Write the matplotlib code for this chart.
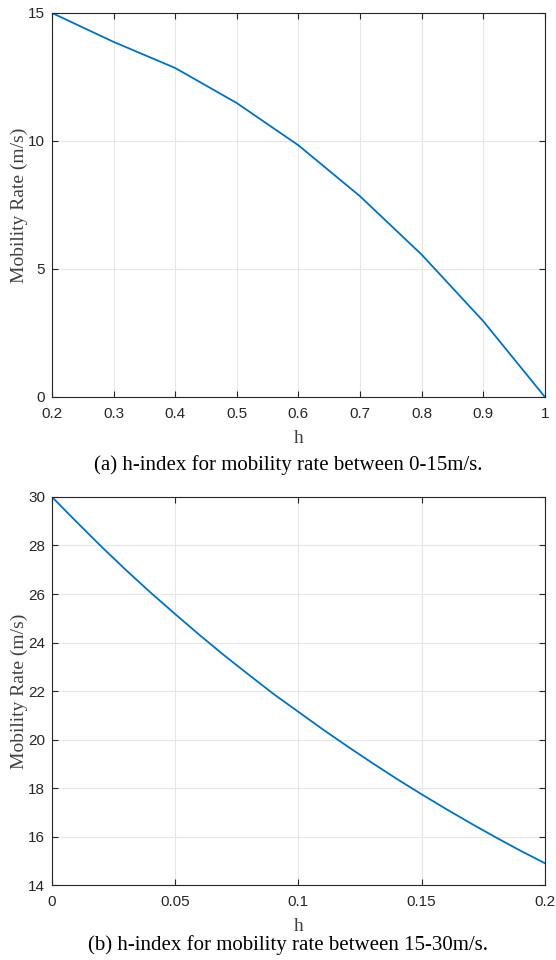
import matplotlib
matplotlib.use("Agg")
import matplotlib.pyplot as plt

# (a) h-index vs mobility rate, 0-15 m/s
h_a = [0.2, 0.3, 0.4, 0.5, 0.6, 0.7, 0.8, 0.9, 1.0]
rate_a = [15.0, 13.87, 12.85, 11.48, 9.83, 7.84, 5.56, 2.96, 0.0]

# (b) h-index vs mobility rate, 15-30 m/s
h_b = [0.00, 0.01, 0.02, 0.03, 0.04, 0.05, 0.06, 0.07, 0.08, 0.09, 0.10,
       0.11, 0.12, 0.13, 0.14, 0.15, 0.16, 0.17, 0.18, 0.19, 0.20]
rate_b = [30.0, 28.97, 27.96, 26.99, 26.06, 25.17, 24.30, 23.46, 22.66, 21.87, 21.14,
          20.41, 19.71, 19.03, 18.37, 17.74, 17.13, 16.54, 15.97, 15.42, 14.90]

xticks_a = [0.2, 0.3, 0.4, 0.5, 0.6, 0.7, 0.8, 0.9, 1]
xlabels_a = ["0.2", "0.3", "0.4", "0.5", "0.6", "0.7", "0.8", "0.9", "1"]
yticks_a = [0, 5, 10, 15]
xticks_b = [0, 0.05, 0.1, 0.15, 0.2]
xlabels_b = ["0", "0.05", "0.1", "0.15", "0.2"]
yticks_b = [14, 16, 18, 20, 22, 24, 26, 28, 30]

line_col = "#0072BD"
axis_col = "#262626"
label_col = "#404040"
serif = ["Liberation Serif", "DejaVu Serif"]
sans = ["Liberation Sans", "DejaVu Sans"]

fig = plt.figure(figsize=(5.56, 9.6), dpi=100)
ax1 = fig.add_axes([0.0935, 0.5865, 0.8865, 0.4])
ax2 = fig.add_axes([0.0935, 0.0781, 0.8865, 0.4042])


def style(ax, xt, xl, yt):
    ax.set_xticks(xt)
    ax.set_xticklabels(xl)
    ax.set_yticks(yt)
    ax.grid(True, color="#e6e6e6", linewidth=0.8)
    ax.set_axisbelow(True)
    ax.tick_params(direction="in", length=4, width=0.8, colors=axis_col,
                   top=True, right=True, labelsize=11)
    ax.tick_params(axis="x", pad=7)
    ax.tick_params(axis="y", pad=5)
    for lab in ax.get_xticklabels() + ax.get_yticklabels():
        lab.set_family(sans)
    for s in ax.spines.values():
        s.set_color(axis_col)
        s.set_linewidth(0.8)
    ax.set_xlabel("h", family=serif, fontsize=14, color=label_col, labelpad=7)
    ax.set_ylabel("Mobility Rate (m/s)", family=serif, fontsize=14,
                  color=label_col, labelpad=0)


ax1.plot(h_a, rate_a, color=line_col, linewidth=1.3)
ax1.set_xlim(0.2, 1)
ax1.set_ylim(0, 15)
style(ax1, xticks_a, xlabels_a, yticks_a)

ax2.plot(h_b, rate_b, color=line_col, linewidth=1.3)
ax2.set_xlim(0, 0.2)
ax2.set_ylim(14, 30)
style(ax2, xticks_b, xlabels_b, yticks_b)

fig.text(0.518, 1 - 465 / 960, "(a) h-index for mobility rate between 0-15m/s.",
         ha="center", va="center", family=serif, fontsize=15, color="black")
fig.text(0.518, 1 - 945 / 960, "(b) h-index for mobility rate between 15-30m/s.",
         ha="center", va="center", family=serif, fontsize=15, color="black")

fig.savefig("out.png", dpi=100)
